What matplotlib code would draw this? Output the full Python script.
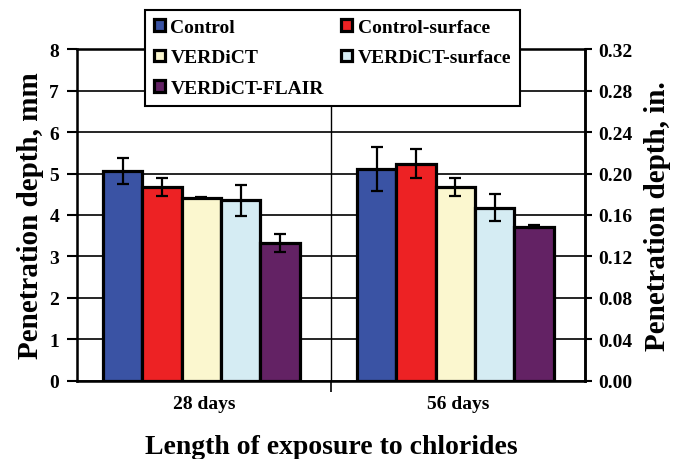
import numpy as np
import matplotlib
matplotlib.use("Agg")
import matplotlib.pyplot as plt
from matplotlib.ticker import FormatStrFormatter

plt.rcParams["font.family"] = ["Liberation Serif", "DejaVu Serif"]
plt.rcParams["font.weight"] = "bold"

categories = ["28 days", "56 days"]
series = ["Control", "Control-surface", "VERDiCT", "VERDiCT-surface", "VERDiCT-FLAIR"]
colors = ["#3A53A4", "#ED2224", "#FBF7CF", "#D5ECF3", "#632264"]

depth = {
    "Control": [5.06, 5.11],
    "Control-surface": [4.67, 5.24],
    "VERDiCT": [4.42, 4.68],
    "VERDiCT-surface": [4.35, 4.18],
    "VERDiCT-FLAIR": [3.33, 3.72],
}
err = {
    "Control": [0.32, 0.53],
    "Control-surface": [0.22, 0.36],
    "VERDiCT": [0.02, 0.22],
    "VERDiCT-surface": [0.38, 0.32],
    "VERDiCT-FLAIR": [0.22, 0.04],
}

fig = plt.figure(figsize=(6.88, 4.6), dpi=100)
ax = fig.add_axes([0.112, 0.170, 0.738, 0.721])

x = np.arange(len(categories))
w = 0.155
for i, (name, c) in enumerate(zip(series, colors)):
    pos = x + (i - 2) * w - 0.01
    ax.bar(pos, depth[name], width=w, color=c, edgecolor="black", linewidth=2.3,
           label=name, zorder=3)
    ax.errorbar(pos, depth[name], yerr=err[name], fmt="none", ecolor="black",
                elinewidth=1.6, capsize=4.5, capthick=1.6, zorder=4)

ax.set_xlim(-0.5, 1.5)
ax.set_ylim(0, 8)
ax.set_yticks(range(0, 9))
ax.yaxis.grid(True, color="black", linewidth=1.2, zorder=0)
ax.axvline(0.5, color="black", linewidth=1.0, zorder=1)
ax.set_xticks(x)
ax.set_xticklabels(categories, fontsize=14, fontweight="bold")
ax.tick_params(axis="x", length=0, pad=10)
ax.set_xticks([0.5], minor=True)
ax.tick_params(axis="x", which="minor", length=8, width=1.2, direction="out")
ax.tick_params(axis="y", length=7, width=1.5, direction="out", labelsize=14, pad=6)
for s in ["left", "right", "top", "bottom"]:
    ax.spines[s].set_linewidth(1.8)
ax.set_ylabel("Penetration depth, mm", fontsize=21, fontweight="bold", labelpad=4)
ax.set_xlabel("Length of exposure to chlorides", fontsize=20, fontweight="bold", labelpad=16)

ax2 = ax.twinx()
ax2.set_ylim(0, 8 / 25.0)
ax2.set_yticks(np.arange(0, 0.33, 0.04))
ax2.yaxis.set_major_formatter(FormatStrFormatter("%.2f"))
ax2.tick_params(axis="y", length=5, width=1.5, direction="out", labelsize=14, pad=5)
ax2.set_ylabel("Penetration depth, in.", fontsize=21, fontweight="bold", labelpad=8)
ax2.spines["right"].set_linewidth(1.8)

handles, labels = ax.get_legend_handles_labels()
order = [0, 2, 4, 1, 3]
leg = fig.legend([handles[i] for i in order], [labels[i] for i in order],
                 loc="upper left", bbox_to_anchor=(0.211, 0.976, 0.545, 0.0),
                 mode="expand", ncol=2, frameon=True, fancybox=False,
                 edgecolor="black", framealpha=1, handlelength=0.55, handleheight=0.55,
                 handletextpad=0.3, labelspacing=0.7, borderpad=0.45, columnspacing=1.0,
                 borderaxespad=0, prop={"weight": "bold", "size": 14})
leg.get_frame().set_linewidth(1.5)
leg.set_zorder(10)

fig.savefig("out.png", dpi=100)
